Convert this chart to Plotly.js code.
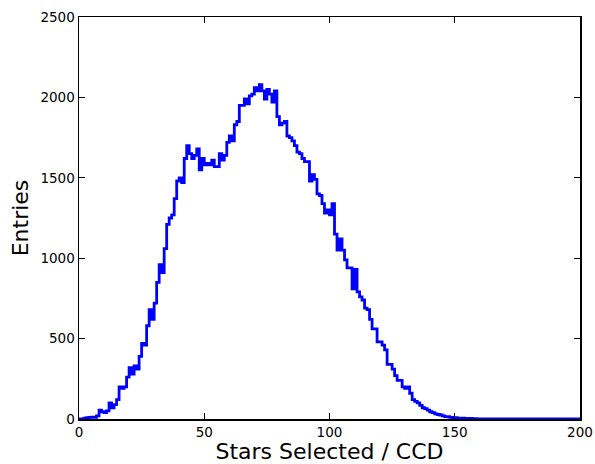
<!DOCTYPE html>
<html>
<head>
<meta charset="utf-8">
<script src="https://cdn.plot.ly/plotly-3.0.1.min.js"></script>
<style>html,body{margin:0;padding:0;background:#fff;}#chart{width:595px;height:464px;}</style>
</head>
<body>
<div id="chart"></div>
<script>
// Histogram counts per unit-width bin, bins [0,1), [1,2), ... [199,200)
const binStart = 0;
const binWidth = 1;
const counts = [
  0,0,5,8,10,12,10,20,55,45,
  40,50,100,70,90,120,200,190,200,260,
  320,280,330,310,390,470,460,580,680,620,
  720,850,960,910,1060,1210,1250,1270,1370,1480,
  1500,1470,1620,1700,1650,1620,1640,1680,1550,1620,
  1580,1590,1580,1610,1570,1570,1650,1610,1640,1720,
  1760,1730,1830,1850,1950,1950,1990,1960,2010,2020,
  2060,2040,2080,2040,1990,2050,2020,1970,2040,1880,
  1830,1840,1850,1760,1750,1730,1700,1660,1650,1620,
  1600,1600,1480,1520,1490,1400,1390,1340,1280,1300,
  1270,1340,1150,1050,1120,1050,990,940,940,810,
  930,790,760,740,690,680,620,560,560,480,
  480,460,430,340,340,310,270,240,240,200,
  190,200,160,120,110,100,85,70,65,55,
  45,40,32,28,25,20,15,14,10,9,
  8,6,5,5,4,3,3,2,2,1,
  1,1,1,1,0,1,0,0,1,0,
  0,0,0,0,0,0,0,0,0,0,
  0,0,0,0,0,0,0,0,0,0,
  0,0,0,0,0,0,0,0,0,0
];
const xTicks = [0, 50, 100, 150, 200];
const yTicks = [0, 500, 1000, 1500, 2000, 2500];
const xLabel = "Stars Selected / CCD";
const yLabel = "Entries";

const xs = [], ys = [];
for (let i = 0; i < counts.length; i++) { xs.push(binStart + i * binWidth); ys.push(counts[i]); }
xs.push(binStart + counts.length * binWidth); ys.push(counts[counts.length - 1]);

const font = "DejaVu Sans, sans-serif";
const axisCommon = {
  showgrid: false, zeroline: false, showline: true, linecolor: "#000", linewidth: 1.5,
  mirror: "ticks", ticks: "inside", ticklen: 6, tickwidth: 1.2, tickcolor: "#000",
  tickfont: {family: font, size: 13.5, color: "#000"}
};
Plotly.newPlot("chart", [{
  x: xs, y: ys, type: "scatter", mode: "lines",
  line: {shape: "hv", color: "#0000ff", width: 2.8},
  hoverinfo: "skip"
}], {
  width: 595, height: 464,
  margin: {l: 79, r: 15, t: 17, b: 45},
  paper_bgcolor: "#fff", plot_bgcolor: "#fff",
  showlegend: false,
  xaxis: Object.assign({}, axisCommon, {range: [0, 200], tickvals: xTicks,
    title: {text: xLabel, font: {family: font, size: 22, color: "#000"}, standoff: 7}}),
  yaxis: Object.assign({}, axisCommon, {range: [0, 2500], tickvals: yTicks,
    title: {text: yLabel, font: {family: font, size: 22, color: "#000"}, standoff: 5}})
}, {displayModeBar: false, staticPlot: true});
</script>
</body>
</html>
